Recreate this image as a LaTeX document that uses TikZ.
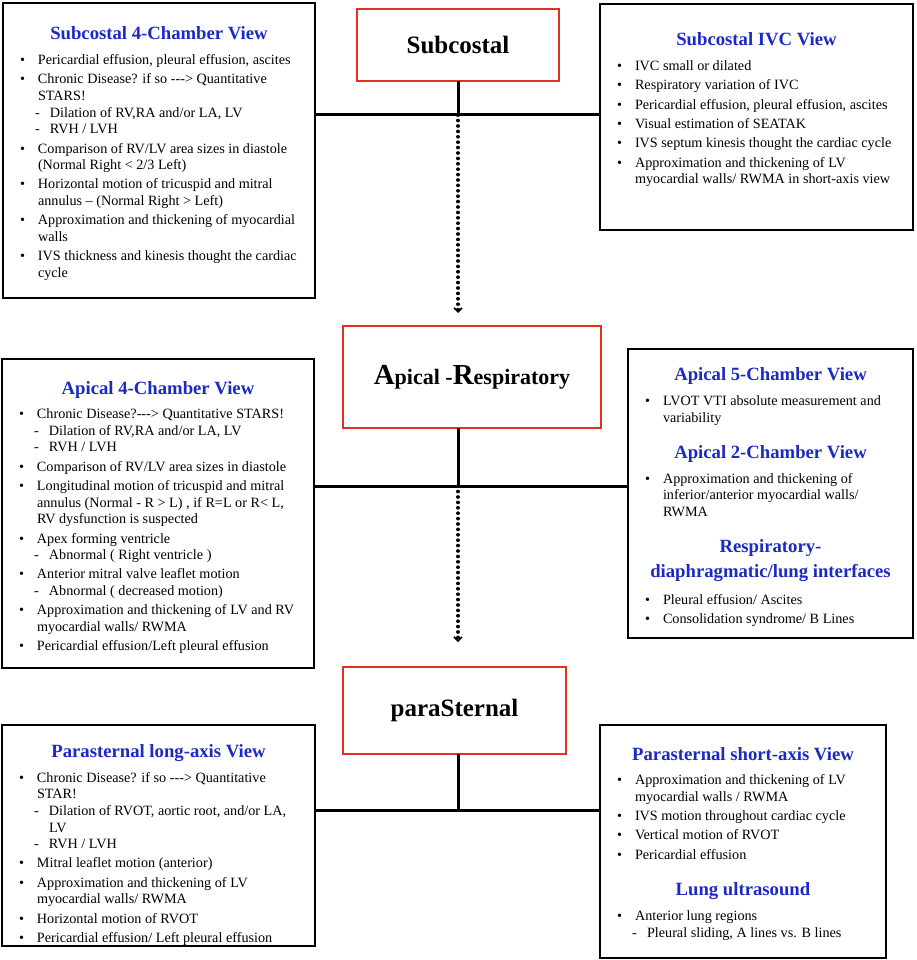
\documentclass[tikz,border=0pt]{standalone}
\usepackage{fontspec}
\setmainfont{Liberation Serif}[Ligatures=TeXOff]
\usetikzlibrary{arrows.meta}
\definecolor{tblue}{RGB}{28,42,196}
\definecolor{bred}{RGB}{228,48,32}
\newlength\tw
\newcommand\ttl[1]{\par{\fontsize{18.7}{23}\selectfont\bfseries\noindent\hbox to\tw{\hss\textcolor{tblue}{#1}\hss}\par}\vspace{5.4pt}}
\newcommand\itm[1]{\par\vspace{2.7pt}\hangindent=18pt\hangafter=1\noindent\hbox to18pt{\textbullet\hss}#1\par}
\newcommand\sitm[1]{\par\hangindent=30pt\hangafter=1\noindent\hbox to30pt{\hskip15pt-\hss}#1\par}
\newcommand\gap[1]{\vspace{#1}}
\newcommand\content[2]{\parbox[t]{\dimexpr#1+24pt\relax}{\setlength\tw{#1}\fontsize{14.2}{16.6}\selectfont\parindent=0pt \parskip=0pt \rightskip=0pt plus 1fil\relax \parfillskip=0pt plus 1fil\relax #2}}
\begin{document}
\begin{tikzpicture}[x=1pt,y=-1pt,
  vbox/.style={draw=black, line width=2.8pt, anchor=north west, inner sep=0pt, outer sep=0pt},
  hub/.style={draw=bred, line width=2.6pt, inner sep=0pt, outer sep=0pt, anchor=north west, font=\bfseries},
  txt/.style={anchor=base west, inner sep=0pt, outer sep=0pt},
  conn/.style={line width=3pt},
  flow/.style={line width=3.2pt, line cap=round, dash pattern=on 0.4pt off 5pt, -{Straight Barb[length=4pt,width=8pt,line width=1.6pt]}}]
\fill[white] (0,0) rectangle (916,960);
\useasboundingbox (0,0) rectangle (916,960);

% hubs
\node[hub, minimum width=202pt, minimum height=72pt, font=\fontsize{25}{30}\selectfont\bfseries] (s1) at (357,9) {Subcostal};
\node[hub, minimum width=258pt, minimum height=102pt] (s2) at (343,326) {{\fontsize{29}{34}\selectfont A}{\fontsize{22}{26}\selectfont pical -}{\fontsize{29}{34}\selectfont R}{\fontsize{22}{26}\selectfont espiratory}};
\node[hub, minimum width=223pt, minimum height=87pt, font=\fontsize{25}{30}\selectfont\bfseries] (s3) at (343,667) {paraSternal};

% view boxes
\node[vbox, minimum width=312pt, minimum height=295pt] (b1) at (3,3) {};
\node[vbox, minimum width=313pt, minimum height=226pt] (b2) at (600,4) {};
\node[vbox, minimum width=312pt, minimum height=309pt] (b3) at (2,359) {};
\node[vbox, minimum width=285pt, minimum height=289pt] (b4) at (628,349) {};
\node[vbox, minimum width=313pt, minimum height=221pt] (b5) at (2,725) {};
\node[vbox, minimum width=286pt, minimum height=233pt] (b6) at (600,725) {};

\node[txt] (t1) at (20,40) {\content{278pt}{%
\ttl{Subcostal 4-Chamber View}
\itm{Pericardial effusion, pleural effusion, ascites}
\itm{Chronic Disease? if so ---> Quantitative\\STARS!}
\sitm{Dilation of RV,RA and/or LA, LV}
\sitm{RVH / LVH}
\itm{Comparison of RV/LV area sizes in diastole\\(Normal Right < 2/3 Left)}
\itm{Horizontal motion of tricuspid and mitral\\annulus – (Normal Right > Left)}
\itm{Approximation and thickening of myocardial\\walls}
\itm{IVS thickness and kinesis thought the cardiac\\cycle}}};

\node[txt] (t2) at (617,46) {\content{279pt}{%
\ttl{Subcostal IVC View}
\itm{IVC small or dilated}
\itm{Respiratory variation of IVC}
\itm{Pericardial effusion, pleural effusion, ascites}
\itm{Visual estimation of SEATAK}
\itm{IVS septum kinesis thought the cardiac cycle}
\itm{Approximation and thickening of LV\\myocardial walls/ RWMA in short-axis view}}};

\node[txt] (t3) at (19,394) {\content{278pt}{%
\ttl{Apical 4-Chamber View}
\itm{Chronic Disease?---> Quantitative STARS!}
\sitm{Dilation of RV,RA and/or LA, LV}
\sitm{RVH / LVH}
\itm{Comparison of RV/LV area sizes in diastole}
\itm{Longitudinal motion of tricuspid and mitral\\annulus (Normal - R > L) , if R=L or R< L,\\RV dysfunction is suspected}
\itm{Apex forming ventricle}
\sitm{Abnormal ( Right ventricle )}
\itm{Anterior mitral valve leaflet motion}
\sitm{Abnormal ( decreased motion)}
\itm{Approximation and thickening of LV and RV\\myocardial walls/ RWMA}
\itm{Pericardial effusion/Left pleural effusion}}};

\node[txt] (t4) at (645,380.7) {\content{251pt}{%
\ttl{Apical 5-Chamber View}
\itm{LVOT VTI absolute measurement and\\variability}
\gap{13.5pt}
\ttl{Apical 2-Chamber View}
\itm{Approximation and thickening of\\inferior/anterior myocardial walls/\\RWMA}
\gap{13.5pt}
\ttl{Respiratory-}
\gap{-3.4pt}
\ttl{diaphragmatic/lung interfaces}
\gap{1.5pt}
\itm{Pleural effusion/ Ascites}
\itm{Consolidation syndrome/ B Lines}}};

\node[txt] (t5) at (19,757.5) {\content{279pt}{%
\ttl{Parasternal long-axis View}
\itm{Chronic Disease? if so ---> Quantitative\\STAR!}
\sitm{Dilation of RVOT, aortic root, and/or LA,\\LV}
\sitm{RVH / LVH}
\itm{Mitral leaflet motion (anterior)}
\itm{Approximation and thickening of LV\\myocardial walls/ RWMA}
\itm{Horizontal motion of RVOT}
\itm{Pericardial effusion/ Left pleural effusion}}};

\node[txt] (t6) at (617,760) {\content{252pt}{%
\ttl{Parasternal short-axis View}
\itm{Approximation and thickening of LV\\myocardial walls / RWMA}
\itm{IVS motion throughout cardiac cycle}
\itm{Vertical motion of RVOT}
\itm{Pericardial effusion}
\gap{13.5pt}
\ttl{Lung ultrasound}
\itm{Anterior lung regions}
\sitm{Pleural sliding, A lines vs. B lines}}};

% connectors
\coordinate (j1) at (458,115);
\coordinate (j2) at (458,486);
\coordinate (j3) at (458,810);
\draw[conn] (s1.south) -- (s1.south |- j1);
\draw[conn] (b1.east |- j1) -- (b2.west |- j1);
\draw[flow, shorten >=13pt] (j1) -- (j1 |- s2.north);
\draw[conn] (j2 |- s2.south) -- (j2);
\draw[conn] (b3.east |- j2) -- (b4.west |- j2);
\draw[flow, shorten >=25pt] (j2) -- (j2 |- s3.north);
\draw[conn] (j3 |- s3.south) -- (j3);
\draw[conn] (b5.east |- j3) -- (b6.west |- j3);
\end{tikzpicture}
\end{document}
